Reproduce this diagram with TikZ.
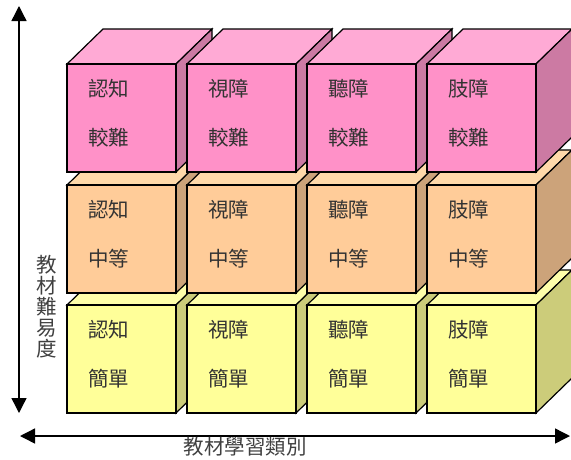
\documentclass[tikz,border=0pt]{standalone}
\usepackage{fontspec}
\newfontfamily\cjk{Noto Sans CJK TC}
\usetikzlibrary{arrows.meta}
\definecolor{pinkF}{HTML}{FF91C8}
\definecolor{pinkT}{HTML}{FFAAD5}
\definecolor{pinkS}{HTML}{CC7AA3}
\definecolor{oranF}{HTML}{FFCC99}
\definecolor{oranT}{HTML}{FFD9AA}
\definecolor{oranS}{HTML}{CCA37A}
\definecolor{yellF}{HTML}{FFFF99}
\definecolor{yellT}{HTML}{FFFFAA}
\definecolor{yellS}{HTML}{CCCC7A}
\tikzset{
  face/.style={draw=black,line width=1.2pt,line join=miter},
  lbl/.style={anchor=west,inner sep=0pt,font=\cjk\fontsize{20.5}{23}\selectfont,text=black!80},
  axis/.style={line width=1.4pt,{Triangle[length=15pt,width=15pt]}-{Triangle[length=15pt,width=15pt]}},
  axlbl/.style={inner sep=0pt,font=\cjk\fontsize{20.5}{22}\selectfont,text=black!75}
}
\newcommand\mycube[5]{%
  \filldraw[face,fill=#3T] (#1,#2) -- ++(36,-35) -- ++(109,0) -- ++(-36,35) -- cycle;
  \filldraw[face,fill=#3S] ({#1+109},#2) -- ++(36,-35) -- ++(0,108) -- ++(-36,35) -- cycle;
  \filldraw[face,fill=#3F] (#1,#2) rectangle ++(109,108);
  \node[lbl] (#5a) at ({#1+21},{#2+25}) {#4};
}
\begin{document}
\begin{tikzpicture}[x=1pt,y=-1pt]
\useasboundingbox (0,0) rectangle (571,459);
% bottom row
\mycube{67}{305}{yell}{認知}{y1}
\mycube{187}{305}{yell}{視障}{y2}
\mycube{307}{305}{yell}{聽障}{y3}
\mycube{427}{305}{yell}{肢障}{y4}
\node[lbl] (y1b) at (88,379) {簡單};
\node[lbl] (y2b) at (208,379) {簡單};
\node[lbl] (y3b) at (328,379) {簡單};
\node[lbl] (y4b) at (448,379) {簡單};
% middle row
\mycube{67}{185}{oran}{認知}{o1}
\mycube{187}{185}{oran}{視障}{o2}
\mycube{307}{185}{oran}{聽障}{o3}
\mycube{427}{185}{oran}{肢障}{o4}
\node[lbl] (o1b) at (88,259) {中等};
\node[lbl] (o2b) at (208,259) {中等};
\node[lbl] (o3b) at (328,259) {中等};
\node[lbl] (o4b) at (448,259) {中等};
% top row
\mycube{67}{64}{pink}{認知}{p1}
\mycube{187}{64}{pink}{視障}{p2}
\mycube{307}{64}{pink}{聽障}{p3}
\mycube{427}{64}{pink}{肢障}{p4}
\node[lbl] (p1b) at (88,138) {較難};
\node[lbl] (p2b) at (208,138) {較難};
\node[lbl] (p3b) at (328,138) {較難};
\node[lbl] (p4b) at (448,138) {較難};
% axes
\coordinate (vtop) at (19,6);
\coordinate (vbot) at (19,413);
\coordinate (hl) at (20,436);
\coordinate (hr) at (570,436);
\draw[axis] (vtop) -- (vbot);
\draw[axis] (hl) -- (hr);
\node[axlbl,align=center] (vlab) at (47,307) {教\\[-1pt]材\\[-1pt]難\\[-1pt]易\\[-1pt]度};
\node[axlbl] (hlab) at (245,447) {教材學習類別};
\end{tikzpicture}
\end{document}
